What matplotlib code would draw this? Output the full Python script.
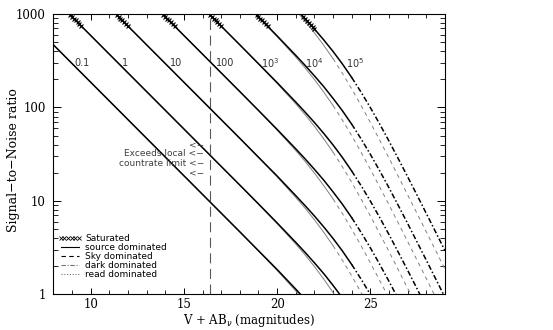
import numpy as np
import matplotlib
matplotlib.use('Agg')
import matplotlib.pyplot as plt
from matplotlib.lines import Line2D
from matplotlib.ticker import MultipleLocator, LogLocator, NullFormatter

# exposure time labels (s) and where they are written
exp_labels = ['0.1', '1', '10', '100', '$10^3$', '$10^4$', '$10^5$']
label_mag = [9.56, 11.84, 14.57, 17.23, 19.6, 22.0, 24.17]
label_snr = 297

# magnitude grids, one per exposure time
mag_01 = [8, 18, 19, 20, 21, 21.5]
mag_1 = [8, 18, 19, 20, 21, 21.5, 22, 22.5, 23, 23.5]
mag_10 = [8, 18, 19, 20, 21, 21.5, 22, 22.5, 23, 23.5, 24, 24.5, 25, 25.5]
mag_100 = [8, 18, 19, 20, 21, 21.5, 22, 22.5, 23, 23.5, 24, 24.5, 25, 25.5, 26, 26.5]
mag_1e3 = [8, 18, 19, 20, 21, 21.5, 22, 22.5, 23, 23.5, 24, 24.5, 25, 25.5, 26, 26.5,
           27, 27.5, 28]
mag_1e4 = [8, 18, 19, 20, 21, 21.5, 22, 22.5, 23, 23.5, 24, 24.5, 25, 25.5, 26, 26.5,
           27, 27.5, 28, 28.5, 29]
mag_1e5 = [20, 21, 21.5, 22, 22.5, 23, 23.5, 24, 24.5, 25, 25.5, 26, 26.5, 27, 27.5,
           28, 28.5, 29]

# thick (black) curves: source -> dark dominated
snr_01_k = [469, 4.68, 2.94, 1.85, 1.14, 0.89]
snr_1_k = [1483, 14.8, 9.31, 5.83, 3.61, 2.82, 2.18, 1.67, 1.25, 0.92]
snr_10_k = [4690, 46.8, 29.4, 18.5, 11.4, 8.92, 6.91, 5.28, 3.97, 2.92, 2.09, 1.46,
            1.00, 0.66]
snr_100_k = [14830, 148, 93.1, 58.3, 36.1, 28.2, 21.8, 16.7, 12.5, 9.23, 6.62, 4.62,
             3.15, 2.10, 1.38, 0.89]
snr_1e3_k = [46900, 468, 294, 184.5, 114.3, 89.2, 69.1, 52.8, 39.7, 29.2, 20.9, 14.6,
             9.96, 6.65, 4.36, 2.82, 1.81, 1.155, 0.734]
snr_1e4_k = [148300, 1480, 931, 583, 361, 282, 218, 167, 125, 92.3, 66.2, 46.2, 31.5,
             21.0, 13.8, 8.92, 5.73, 3.65, 2.32, 1.47, 0.93]
snr_1e5_k = [1845, 1143, 892, 691, 528, 397, 292, 209, 146, 99.6, 66.5, 43.6, 28.2,
             18.1, 11.55, 7.34, 4.65, 2.94]

# thin (grey) curves: source -> sky dominated
snr_01_g = [469, 4.67, 2.92, 1.81, 1.09, 0.84]
snr_1_g = [1483, 14.76, 9.24, 5.73, 3.46, 2.65, 1.99, 1.46, 1.05, 0.73]
snr_10_g = [4690, 46.7, 29.2, 18.1, 10.9, 8.37, 6.29, 4.62, 3.32, 2.32, 1.58, 1.05,
            0.69, 0.45]
snr_100_g = [14830, 147.6, 92.4, 57.3, 34.6, 26.5, 19.9, 14.6, 10.5, 7.33, 4.99, 3.33,
             2.18, 1.41, 0.91, 0.58]
snr_1e3_g = [46900, 467, 292, 181, 109.4, 83.7, 62.9, 46.2, 33.2, 23.2, 15.8, 10.5,
             6.91, 4.47, 2.87, 1.83, 1.16, 0.737, 0.467]
snr_1e4_g = [148300, 1476, 924, 573, 346, 265, 199, 146, 104.9, 73.3, 49.9, 33.3,
             21.8, 14.1, 9.08, 5.79, 3.68, 2.33, 1.48, 0.93, 0.59]
snr_1e5_g = [1811, 1094, 837, 629, 462, 332, 232, 158, 105.3, 69.1, 44.7, 28.7, 18.3,
             11.6, 7.37, 4.67, 2.95, 1.86]

mags = [mag_01, mag_1, mag_10, mag_100, mag_1e3, mag_1e4, mag_1e5]
snr_thick = [snr_01_k, snr_1_k, snr_10_k, snr_100_k, snr_1e3_k, snr_1e4_k, snr_1e5_k]
snr_thin = [snr_01_g, snr_1_g, snr_10_g, snr_100_g, snr_1e3_g, snr_1e4_g, snr_1e5_g]

dark_break = 24.0   # thick curves become dark dominated
sky_break = 23.0    # thin curves become sky dominated
countrate_mag = 16.4

# saturated points (1 s ... 1e5 s)
sat_mags = [
    [8.9, 9.0, 9.1, 9.2, 9.3, 9.4, 9.5],
    [11.4, 11.5, 11.6, 11.7, 11.8, 11.9, 12.0],
    [13.9, 14.0, 14.1, 14.2, 14.3, 14.4, 14.5],
    [16.4, 16.5, 16.6, 16.7, 16.8, 16.9, 17.0],
    [18.9, 19.0, 19.1, 19.2, 19.3, 19.4, 19.5],
    [21.4, 21.5, 21.6, 21.7, 21.8, 21.9, 22.0],
]
sat_snr = [980, 936, 894, 853, 815, 778, 743]
sat_snr_1e5 = [939, 892, 848, 805, 765, 727, 691]
sat_snrs = [sat_snr] * 5 + [sat_snr_1e5]

fig = plt.figure(figsize=(5.53, 3.30), dpi=100)
ax = fig.add_axes([0.0964, 0.1076, 0.7083, 0.850])
ax.set_yscale('log')

for m, s in zip(mags, snr_thin):
    m = np.array(m)
    s = np.array(s)
    a = m <= sky_break
    b = m >= sky_break
    ax.plot(m[a], s[a], color='0.5', lw=0.7, zorder=2)
    ax.plot(m[b], s[b], color='0.5', lw=0.7, ls=(0, (4, 4)), zorder=2)

for m, s in zip(mags, snr_thick):
    m = np.array(m)
    s = np.array(s)
    a = m <= dark_break
    b = m >= dark_break
    ax.plot(m[a], s[a], color='k', lw=1.1, zorder=3)
    ax.plot(m[b], s[b], color='k', lw=1.1, ls=(0, (3.5, 1.5, 1, 1.5)), zorder=3)

for sm, ss in zip(sat_mags, sat_snrs):
    ax.plot(sm, ss, ls='none', marker='x', ms=3.5, mew=0.8, color='k', zorder=4)

for lab, lm in zip(exp_labels, label_mag):
    ax.text(lm, label_snr, lab, fontsize=7, ha='center', va='center', color='0.2')

ax.axvline(countrate_mag, color='0.35', lw=0.8, ls=(0, (9, 5)), zorder=1)
ax.text(16.07, 28.5, '<\u2212\nExceeds local <\u2212\ncountrate limit <\u2212\n<\u2212',
        ha='right', va='center', multialignment='right', fontsize=6.5,
        linespacing=1.05, color='0.25')

handles = [
    Line2D([], [], ls='none', marker='x', color='k', ms=2.8, mew=0.6),
    Line2D([], [], color='k', lw=0.8),
    Line2D([], [], color='k', lw=0.8, ls=(0, (4, 3))),
    Line2D([], [], color='0.45', lw=0.8, ls=(0, (4, 1.5, 1, 1.5))),
    Line2D([], [], color='0.45', lw=0.8, ls=(0, (1, 1.5))),
]
labels = ['Saturated', 'source dominated', 'Sky dominated', 'dark dominated',
          'read dominated']
ax.legend(handles, labels, loc='lower left', bbox_to_anchor=(0.012, 0.055),
          frameon=False, fontsize=6.5, handlelength=2.6, handletextpad=0.4,
          labelspacing=0.0, borderpad=0, borderaxespad=0, numpoints=6)

ax.set_xlim(8, 29)
ax.set_ylim(1, 1000)
ax.set_xticks([10, 15, 20, 25])
ax.xaxis.set_minor_locator(MultipleLocator(1))
ax.set_yticks([1, 10, 100, 1000])
ax.set_yticklabels(['1', '10', '100', '1000'])
ax.yaxis.set_minor_locator(LogLocator(subs=range(2, 10)))
ax.yaxis.set_minor_formatter(NullFormatter())

ax.tick_params(which='both', direction='in', top=True, right=True,
               labelsize=8.5, labelfontfamily='DejaVu Serif')
ax.tick_params(axis='y', which='major', length=6, width=0.7, pad=5.5)
ax.tick_params(axis='y', which='minor', length=3.5, width=0.6)
ax.tick_params(axis='x', which='major', length=4.5, width=0.7, pad=2.5)
ax.tick_params(axis='x', which='minor', length=3, width=0.6)
for sp in ax.spines.values():
    sp.set_linewidth(0.8)

ax.set_xlabel('V + AB$_\\nu$ (magnitudes)', fontfamily='DejaVu Serif', fontsize=8.5,
              labelpad=1)
ax.set_ylabel('Signal\u2212to\u2212Noise ratio', fontfamily='DejaVu Serif', fontsize=9)
ax.yaxis.set_label_coords(-0.085, 0.48)

plt.savefig('out.png', dpi=100)
plt.close()
